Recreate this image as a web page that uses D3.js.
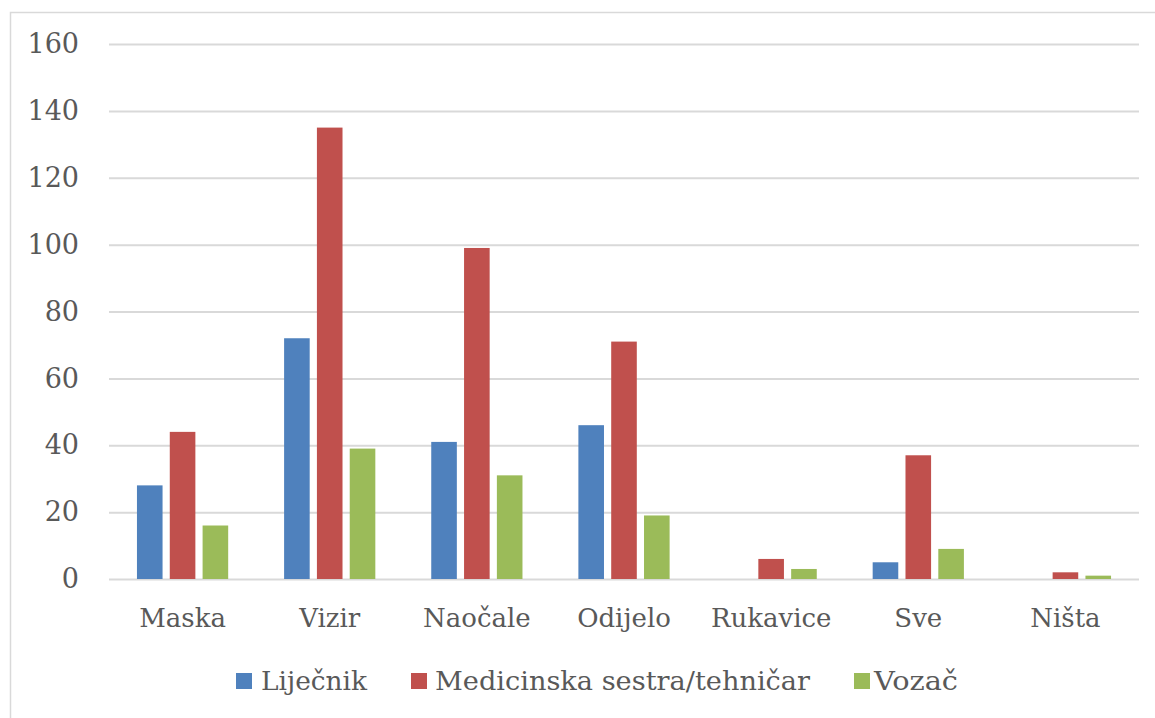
<!DOCTYPE html>
<html>
<head>
<meta charset="utf-8">
<script src="https://cdn.jsdelivr.net/npm/d3@7"></script>
<style>
  body { margin: 0; background: #fff; }
  text { font-family: "DejaVu Serif", serif; fill: #595959; }
</style>
</head>
<body>
<svg id="chart" width="1155" height="718"></svg>
<script>
const categories = ['Maska', 'Vizir', 'Naočale', 'Odijelo', 'Rukavice', 'Sve', 'Ništa'];
const seriesNames = ['Liječnik', 'Medicinska sestra/tehničar', 'Vozač'];
const lijecnik = [28, 72, 41, 46, 0, 5, 0];
const sestra = [44, 135, 99, 71, 6, 37, 2];
const vozac = [16, 39, 31, 19, 3, 9, 1];
const yTicks = [0, 20, 40, 60, 80, 100, 120, 140, 160];

const colors = ['#4F81BD', '#C0504D', '#9BBB59'];
const seriesValues = [lijecnik, sestra, vozac];

const svg = d3.select('#chart');
const plotLeft = 109, plotRight = 1139, plotTop = 44, plotBottom = 579;

// outer frame (runs off the right and bottom edge)
svg.append('rect')
    .attr('x', 10.5).attr('y', 12.5)
    .attr('width', 1200).attr('height', 800)
    .style('fill', 'none')
    .style('stroke', '#d9d9d9')
    .style('stroke-width', 1.5);

const y = d3.scaleLinear().domain([0, 160]).range([plotBottom, plotTop]);
const x0 = d3.scaleBand().domain(categories).range([plotLeft, plotRight])
    .paddingInner(0.38).paddingOuter(0.19);
const x1 = d3.scaleBand().domain(seriesNames).range([0, x0.bandwidth()])
    .paddingInner(0.22);

// gridlines + y labels
const yAxis = d3.axisLeft(y).tickValues(yTicks)
    .tickSize(-(plotRight - plotLeft)).tickPadding(30);
svg.append('g')
    .attr('transform', `translate(${plotLeft},0)`)
    .call(yAxis)
    .call(g => g.select('.domain').remove())
    .call(g => g.selectAll('line').style('stroke', '#d9d9d9').style('stroke-width', 2))
    .call(g => g.selectAll('text')
      .style('font-size', '27px')
      .style('font-family', '"DejaVu Serif", serif')
      .style('fill', '#595959'));

// bars
const groups = svg.append('g').selectAll('g')
  .data(categories)
  .enter()
  .append('g')
    .attr('transform', d => `translate(${x0(d)},0)`);
groups.selectAll('rect')
  .data((c, i) => seriesNames.map((s, k) => ({s, k, v: seriesValues[k][i]})))
  .enter()
  .append('rect')
    .attr('x', d => x1(d.s))
    .attr('width', x1.bandwidth())
    .attr('y', d => y(d.v))
    .attr('height', d => y(0) - y(d.v))
    .style('fill', d => colors[d.k]);

// category labels
const xAxis = d3.axisBottom(x0).tickSize(0).tickPadding(30);
svg.append('g')
    .attr('transform', `translate(0,${plotBottom})`)
    .call(xAxis)
    .call(g => g.select('.domain').remove())
    .call(g => g.selectAll('text')
      .style('font-size', '26px')
      .style('font-family', '"DejaVu Serif", serif')
      .style('fill', '#595959'));

// legend
const legendItems = [
  {sx: 236, tx: 261, w: 106},
  {sx: 411, tx: 435, w: 375},
  {sx: 854, tx: 874, w: 84}
];
const legend = svg.append('g');
legendItems.forEach((it, k) => {
  legend.append('rect')
      .attr('x', it.sx).attr('y', 673)
      .attr('width', 16).attr('height', 16)
      .style('fill', colors[k]);
  legend.append('text')
      .attr('x', it.tx).attr('y', 690)
      .attr('textLength', it.w)
      .attr('lengthAdjust', 'spacingAndGlyphs')
      .style('font-size', '26px')
      .text(seriesNames[k]);
});
</script>
</body>
</html>
